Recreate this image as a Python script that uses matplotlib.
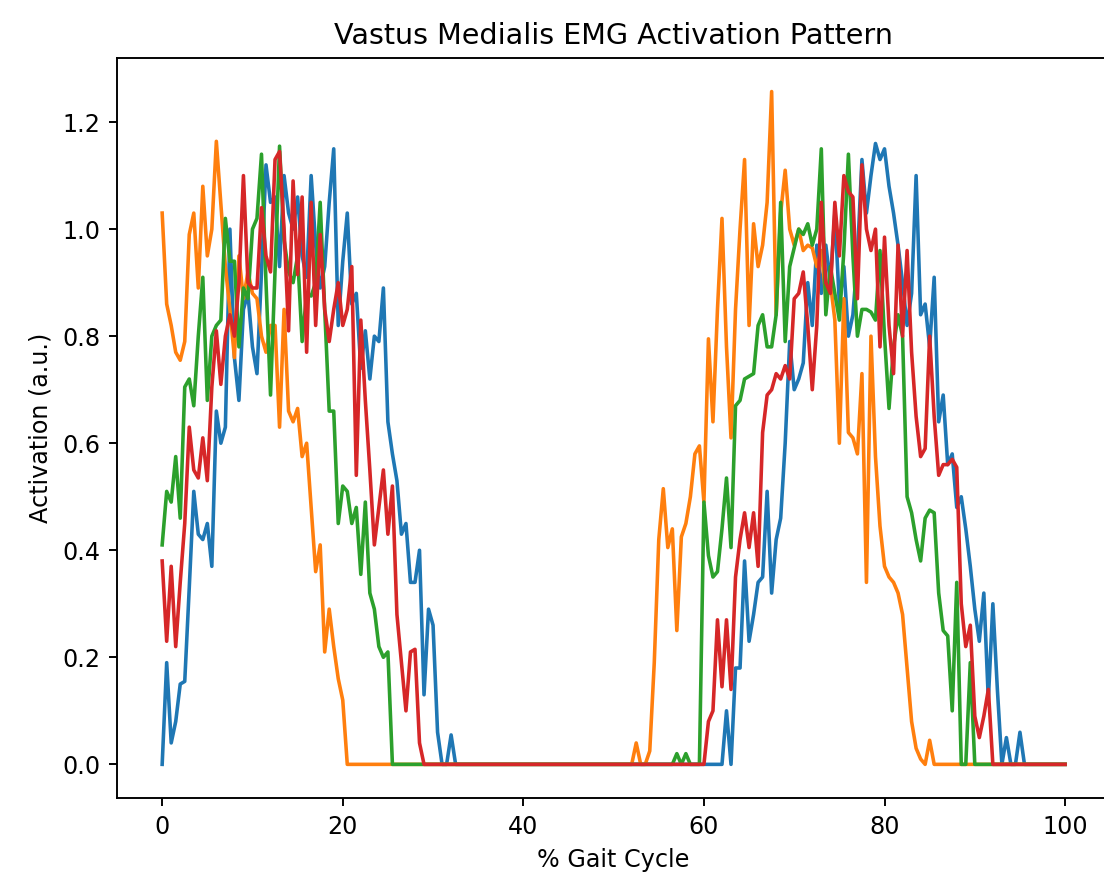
import matplotlib
matplotlib.use("Agg")
import matplotlib.pyplot as plt
import numpy as np

# % gait cycle, sampled every 0.5 %
gait = np.linspace(0, 100, 201)

# each row below = 10 samples (5 % of the cycle)
vm_blue = [
    0.0, 0.19, 0.04, 0.08, 0.15, 0.155, 0.33, 0.51, 0.43, 0.42,
    0.45, 0.37, 0.66, 0.60, 0.63, 1.0, 0.76, 0.68, 0.85, 0.88,
    0.78, 0.73, 0.92, 1.12, 1.05, 1.06, 0.93, 1.10, 1.03, 1.0,
    1.06, 0.95, 0.91, 1.10, 0.97, 0.89, 0.93, 1.05, 1.15, 0.82,
    0.94, 1.03, 0.86, 0.88, 0.74, 0.81, 0.72, 0.80, 0.79, 0.89,
    0.64, 0.58, 0.53, 0.43, 0.45, 0.34, 0.34, 0.40, 0.13, 0.29,
    0.26, 0.06, 0.0, 0.0, 0.055, 0.0, 0.0, 0.0, 0.0, 0.0,
    0.0, 0.0, 0.0, 0.0, 0.0, 0.0, 0.0, 0.0, 0.0, 0.0,
    0.0, 0.0, 0.0, 0.0, 0.0, 0.0, 0.0, 0.0, 0.0, 0.0,
    0.0, 0.0, 0.0, 0.0, 0.0, 0.0, 0.0, 0.0, 0.0, 0.0,
    0.0, 0.0, 0.0, 0.0, 0.0, 0.0, 0.0, 0.0, 0.0, 0.0,
    0.0, 0.0, 0.0, 0.0, 0.0, 0.0, 0.0, 0.0, 0.0, 0.0,
    0.0, 0.0, 0.0, 0.0, 0.0, 0.10, 0.0, 0.18, 0.18, 0.38,
    0.23, 0.28, 0.34, 0.35, 0.51, 0.32, 0.42, 0.46, 0.60, 0.79,
    0.70, 0.72, 0.75, 0.90, 0.82, 0.97, 0.88, 0.97, 0.90, 1.03,
    0.86, 0.93, 0.80, 0.84, 0.95, 1.13, 1.03, 1.10, 1.16, 1.13,
    1.15, 1.08, 1.03, 0.97, 0.90, 0.82, 0.88, 1.10, 0.84, 0.86,
    0.78, 0.91, 0.64, 0.69, 0.56, 0.58, 0.48, 0.50, 0.44, 0.37,
    0.29, 0.23, 0.32, 0.12, 0.30, 0.14, 0.0, 0.05, 0.0, 0.0,
    0.06, 0.0, 0.0, 0.0, 0.0, 0.0, 0.0, 0.0, 0.0, 0.0,
    0.0,
]

vm_orange = [
    1.03, 0.86, 0.82, 0.77, 0.755, 0.79, 0.99, 1.03, 0.89, 1.08,
    0.95, 1.0, 1.164, 1.046, 0.93, 0.85, 0.76, 0.95, 0.87, 0.92,
    0.88, 0.87, 0.80, 0.77, 0.82, 0.82, 0.63, 0.85, 0.66, 0.64,
    0.665, 0.575, 0.60, 0.48, 0.36, 0.41, 0.21, 0.29, 0.22, 0.16,
    0.12, 0.0, 0.0, 0.0, 0.0, 0.0, 0.0, 0.0, 0.0, 0.0,
    0.0, 0.0, 0.0, 0.0, 0.0, 0.0, 0.0, 0.0, 0.0, 0.0,
    0.0, 0.0, 0.0, 0.0, 0.0, 0.0, 0.0, 0.0, 0.0, 0.0,
    0.0, 0.0, 0.0, 0.0, 0.0, 0.0, 0.0, 0.0, 0.0, 0.0,
    0.0, 0.0, 0.0, 0.0, 0.0, 0.0, 0.0, 0.0, 0.0, 0.0,
    0.0, 0.0, 0.0, 0.0, 0.0, 0.0, 0.0, 0.0, 0.0, 0.0,
    0.0, 0.0, 0.0, 0.0, 0.0, 0.04, 0.0, 0.0, 0.025, 0.19,
    0.42, 0.515, 0.405, 0.44, 0.25, 0.425, 0.45, 0.50, 0.58, 0.595,
    0.49, 0.795, 0.64, 0.85, 1.02, 0.78, 0.61, 0.85, 1.0, 1.13,
    0.82, 1.01, 0.93, 0.97, 1.05, 1.257, 0.84, 1.03, 1.11, 1.0,
    0.97, 1.0, 0.96, 0.97, 0.965, 0.93, 0.96, 0.875, 0.90, 0.83,
    0.60, 0.87, 0.62, 0.61, 0.58, 0.73, 0.34, 0.80, 0.575, 0.445,
    0.37, 0.35, 0.34, 0.32, 0.28, 0.18, 0.08, 0.03, 0.01, 0.0,
    0.045, 0.0, 0.0, 0.0, 0.0, 0.0, 0.0, 0.0, 0.0, 0.0,
    0.0, 0.0, 0.0, 0.0, 0.0, 0.0, 0.0, 0.0, 0.0, 0.0,
    0.0, 0.0, 0.0, 0.0, 0.0, 0.0, 0.0, 0.0, 0.0, 0.0,
    0.0,
]

vm_green = [
    0.41, 0.51, 0.49, 0.575, 0.46, 0.705, 0.72, 0.67, 0.80, 0.91,
    0.68, 0.80, 0.82, 0.83, 1.02, 0.94, 0.94, 0.78, 0.89, 0.87,
    1.0, 1.02, 1.14, 0.90, 0.69, 0.92, 1.155, 0.98, 0.92, 0.90,
    0.95, 0.79, 0.88, 0.875, 0.90, 1.05, 0.85, 0.66, 0.66, 0.45,
    0.52, 0.51, 0.45, 0.48, 0.355, 0.49, 0.32, 0.29, 0.22, 0.20,
    0.21, 0.0, 0.0, 0.0, 0.0, 0.0, 0.0, 0.0, 0.0, 0.0,
    0.0, 0.0, 0.0, 0.0, 0.0, 0.0, 0.0, 0.0, 0.0, 0.0,
    0.0, 0.0, 0.0, 0.0, 0.0, 0.0, 0.0, 0.0, 0.0, 0.0,
    0.0, 0.0, 0.0, 0.0, 0.0, 0.0, 0.0, 0.0, 0.0, 0.0,
    0.0, 0.0, 0.0, 0.0, 0.0, 0.0, 0.0, 0.0, 0.0, 0.0,
    0.0, 0.0, 0.0, 0.0, 0.0, 0.0, 0.0, 0.0, 0.0, 0.0,
    0.0, 0.0, 0.0, 0.0, 0.02, 0.0, 0.02, 0.0, 0.0, 0.0,
    0.49, 0.39, 0.35, 0.36, 0.44, 0.535, 0.405, 0.67, 0.68, 0.72,
    0.725, 0.73, 0.82, 0.84, 0.78, 0.78, 0.84, 1.05, 0.79, 0.93,
    0.965, 1.0, 0.99, 1.01, 0.97, 1.0, 1.15, 0.84, 0.93, 0.88,
    0.83, 0.96, 1.14, 0.95, 0.80, 0.85, 0.85, 0.845, 0.83, 0.96,
    0.80, 0.665, 0.78, 0.84, 0.80, 0.50, 0.47, 0.42, 0.38, 0.46,
    0.475, 0.47, 0.32, 0.25, 0.24, 0.10, 0.34, 0.0, 0.0, 0.19,
    0.0, 0.0, 0.0, 0.0, 0.0, 0.0, 0.0, 0.0, 0.0, 0.0,
    0.0, 0.0, 0.0, 0.0, 0.0, 0.0, 0.0, 0.0, 0.0, 0.0,
    0.0,
]

vm_red = [
    0.38, 0.23, 0.37, 0.22, 0.34, 0.45, 0.63, 0.55, 0.535, 0.61,
    0.53, 0.705, 0.81, 0.71, 0.80, 0.84, 0.80, 0.90, 1.10, 0.90,
    0.89, 0.89, 1.04, 0.95, 0.92, 1.13, 1.145, 1.0, 0.81, 1.09,
    0.915, 1.06, 0.77, 1.05, 0.82, 0.99, 0.85, 0.79, 0.85, 0.90,
    0.82, 0.85, 0.93, 0.54, 0.83, 0.68, 0.55, 0.41, 0.48, 0.55,
    0.43, 0.52, 0.28, 0.19, 0.10, 0.21, 0.215, 0.04, 0.0, 0.0,
    0.0, 0.0, 0.0, 0.0, 0.0, 0.0, 0.0, 0.0, 0.0, 0.0,
    0.0, 0.0, 0.0, 0.0, 0.0, 0.0, 0.0, 0.0, 0.0, 0.0,
    0.0, 0.0, 0.0, 0.0, 0.0, 0.0, 0.0, 0.0, 0.0, 0.0,
    0.0, 0.0, 0.0, 0.0, 0.0, 0.0, 0.0, 0.0, 0.0, 0.0,
    0.0, 0.0, 0.0, 0.0, 0.0, 0.0, 0.0, 0.0, 0.0, 0.0,
    0.0, 0.0, 0.0, 0.0, 0.0, 0.0, 0.0, 0.0, 0.0, 0.0,
    0.0, 0.08, 0.10, 0.27, 0.145, 0.27, 0.14, 0.35, 0.42, 0.47,
    0.405, 0.47, 0.37, 0.62, 0.69, 0.70, 0.73, 0.72, 0.745, 0.72,
    0.87, 0.88, 0.92, 0.82, 0.70, 0.82, 1.05, 0.90, 0.88, 1.05,
    0.95, 1.10, 1.07, 1.06, 0.87, 1.12, 1.0, 0.96, 1.0, 0.78,
    0.985, 0.82, 0.73, 0.97, 0.80, 0.96, 0.77, 0.65, 0.575, 0.59,
    0.80, 0.65, 0.54, 0.56, 0.56, 0.57, 0.555, 0.30, 0.22, 0.26,
    0.09, 0.05, 0.09, 0.14, 0.0, 0.0, 0.0, 0.0, 0.0, 0.0,
    0.0, 0.0, 0.0, 0.0, 0.0, 0.0, 0.0, 0.0, 0.0, 0.0,
    0.0,
]

series = [vm_blue, vm_orange, vm_green, vm_red]

fig = plt.figure(figsize=(6.42, 5.14), dpi=172)
# right spine falls just outside the saved image, as in the reference
ax = fig.add_axes([117 / 1104, 86 / 884, 993 / 1104, 740 / 884])

for values in series:
    ax.plot(gait, values)

ax.set_title("Vastus Medialis EMG Activation Pattern")
ax.set_xlabel("% Gait Cycle")
ax.set_ylabel("Activation (a.u.)")

fig.savefig("out.png", dpi=172)
